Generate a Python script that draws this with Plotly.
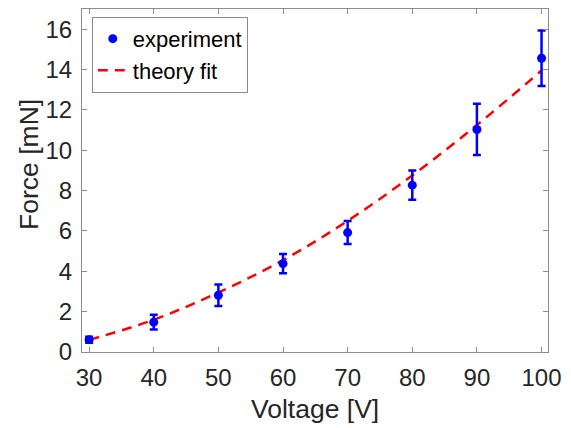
import plotly.graph_objects as go

voltage = [30, 40, 50, 60, 70, 80, 90, 100]
force = [0.61, 1.48, 2.81, 4.38, 5.92, 8.27, 11.03, 14.56]
force_err = [0.15, 0.37, 0.53, 0.48, 0.57, 0.73, 1.27, 1.38]
fit_force = [0.6, 1.6, 2.95, 4.55, 6.5, 8.75, 11.25, 13.95]

FONT = "Liberation Sans, Arial, Helvetica, sans-serif"
TXT = "#262626"
AX = "#8c8c8c"

fig = go.Figure()
fig.add_trace(go.Scatter(
    x=voltage, y=fit_force, mode="lines", name="theory fit",
    line=dict(color="#ff0000", width=2.5, dash="10px,7px", shape="spline"),
))
fig.add_trace(go.Scatter(
    x=voltage, y=force, mode="markers", name="experiment",
    marker=dict(color="#0000ff", size=9, symbol="circle"),
    error_y=dict(type="data", array=force_err, color="#0000ff", thickness=2.5, width=4),
))

fig.update_layout(
    width=571, height=428,
    margin=dict(l=82, r=23, t=9, b=76, autoexpand=False),
    paper_bgcolor="white", plot_bgcolor="white",
    font=dict(family=FONT, size=24, color=TXT),
    showlegend=True,
    legend=dict(
        x=0.021, y=0.977, xanchor="left", yanchor="top",
        bgcolor="white", bordercolor=AX, borderwidth=1,
        font=dict(size=22, color="black"), traceorder="reversed",
        itemwidth=30, tracegroupgap=0,
    ),
    xaxis=dict(
        range=[28.9, 101], tickvals=[30, 40, 50, 60, 70, 80, 90, 100],
        ticks="inside", ticklen=5, tickcolor=AX, showline=True, linecolor=AX,
        linewidth=1, mirror="ticks", showgrid=False, zeroline=False,
        tickfont=dict(size=24, color=TXT), automargin=False,
        ticklabelstandoff=4,
    ),
    yaxis=dict(
        range=[0, 17], tickvals=[0, 2, 4, 6, 8, 10, 12, 14, 16],
        ticks="inside", ticklen=5, tickcolor=AX, showline=True, linecolor=AX,
        linewidth=1, mirror="ticks", showgrid=False, zeroline=False,
        tickfont=dict(size=24, color=TXT), automargin=False,
        ticklabelstandoff=4,
    ),
    annotations=[
        dict(text="Force [mN]", xref="paper", yref="paper",
             x=-0.114, y=0.548, xanchor="center", yanchor="middle",
             textangle=-90, showarrow=False, font=dict(size=26.5, color=TXT)),
        dict(text="Voltage [V]", xref="paper", yref="paper",
             x=0.5, y=-0.165, xanchor="center", yanchor="middle",
             showarrow=False, font=dict(size=26.5, color=TXT)),
    ],
)

fig.write_html(
    "out.html",
    config={"displayModeBar": False},
    post_script="document.body.style.margin='0';document.body.style.overflow='hidden';",
)
